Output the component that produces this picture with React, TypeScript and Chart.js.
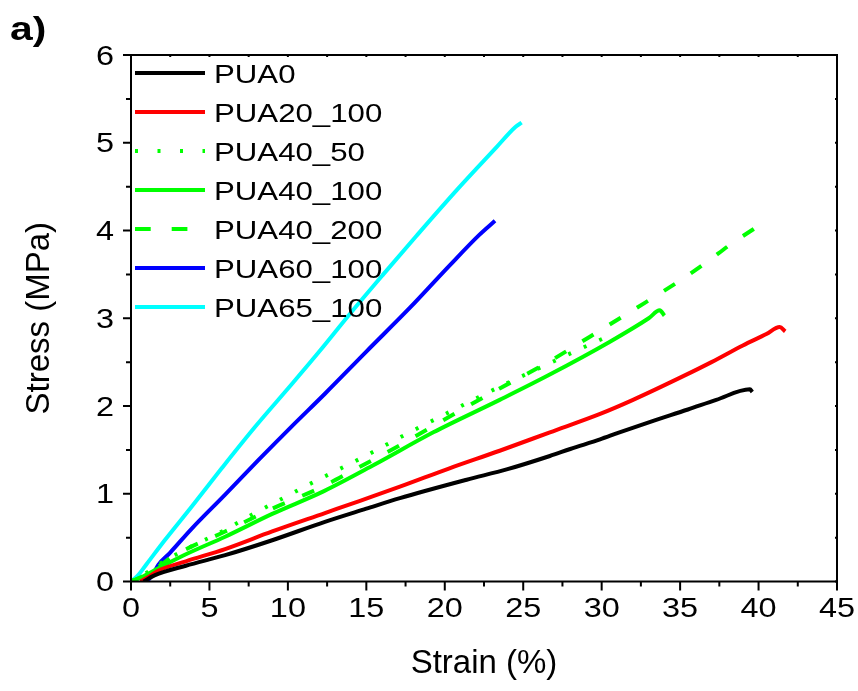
import React, { useEffect, useRef } from 'react';
import { Chart, registerables } from 'chart.js';

Chart.register(...registerables);

const xTickValues = [0, 5, 10, 15, 20, 25, 30, 35, 40, 45];
const yTickValues = [0, 1, 2, 3, 4, 5, 6];
const xTitle = 'Strain (%)';
const yTitle = 'Stress (MPa)';
const panelLabel = 'a)';

const seriesNames = ['PUA0', 'PUA20_100', 'PUA40_50', 'PUA40_100', 'PUA40_200', 'PUA60_100', 'PUA65_100'];
const seriesColors = ['#000000', '#ff0000', '#00ff00', '#00ff00', '#00ff00', '#0000ff', '#00ffff'];
const seriesStyles = ['solid', 'solid', 'dotted', 'solid', 'dashed', 'solid', 'solid'];

const pua0Strain = [0.8, 1.5, 3.5, 6, 9, 12.36, 15, 17.14, 21.4, 24, 26.7, 28, 29.9, 31, 33.1, 35.5, 37.3, 39.45, 39.6];
const pua0Stress = [0, 0.07, 0.18, 0.3, 0.47, 0.68, 0.83, 0.95, 1.16, 1.28, 1.43, 1.51, 1.62, 1.69, 1.82, 1.96, 2.07, 2.19, 2.16];

const pua20Strain = [0.6, 1.2, 1.7, 3.5, 6, 9, 12.36, 14.6, 17.14, 20.3, 23.5, 26.7, 29.9, 32, 35.2, 37, 39, 40.5, 41.35, 41.7];
const pua20Stress = [0, 0.06, 0.12, 0.23, 0.37, 0.57, 0.78, 0.92, 1.08, 1.29, 1.49, 1.7, 1.91, 2.07, 2.34, 2.5, 2.69, 2.82, 2.9, 2.85];

const pua40_50Strain = [0, 1, 2, 3.86, 5.8, 7.7, 9.8, 11.6, 14.5, 17.55, 20.5, 23.5, 26, 28.5, 30.6];
const pua40_50Stress = [0, 0.1, 0.22, 0.4, 0.57, 0.76, 0.96, 1.13, 1.39, 1.68, 1.95, 2.22, 2.43, 2.64, 2.81];

const pua40_100Strain = [0, 0.8, 1.74, 3.5, 6, 9, 12.3, 15.5, 19.27, 23.5, 26.6, 30.5, 33, 33.7, 34];
const pua40_100Stress = [0, 0.06, 0.15, 0.31, 0.51, 0.77, 1.03, 1.33, 1.7, 2.07, 2.35, 2.73, 3, 3.09, 3.03];

const pua40_200Strain = [0, 1, 2.8, 6, 9, 12.2, 14, 17.1, 20.7, 23.5, 26.5, 29.25, 32.7, 35, 36.7, 38.2, 40.4];
const pua40_200Stress = [0, 0.08, 0.3, 0.57, 0.83, 1.08, 1.25, 1.55, 1.92, 2.2, 2.49, 2.79, 3.17, 3.43, 3.64, 3.84, 4.1];

const pua60Strain = [1.0, 1.4, 1.74, 2.5, 3.86, 6, 8.1, 10.2, 12.36, 15, 17.78, 20.3, 22.2, 23.2];
const pua60Stress = [0, 0.08, 0.19, 0.33, 0.6, 0.99, 1.38, 1.76, 2.14, 2.62, 3.12, 3.6, 3.95, 4.11];

const pua65Strain = [0, 0.4, 1, 2.15, 3.85, 5.78, 7.9, 10.35, 12, 14, 16.08, 18.2, 20.76, 23.3, 24.5, 24.9];
const pua65Stress = [0, 0.06, 0.2, 0.47, 0.85, 1.29, 1.76, 2.27, 2.62, 3.06, 3.5, 3.94, 4.46, 4.95, 5.18, 5.23];

const seriesStrain = [pua0Strain, pua20Strain, pua40_50Strain, pua40_100Strain, pua40_200Strain, pua60Strain, pua65Strain];
const seriesStress = [pua0Stress, pua20Stress, pua40_50Stress, pua40_100Stress, pua40_200Stress, pua60Stress, pua65Stress];

const FONT = '"Liberation Sans", Arial, sans-serif';
const SX = 1.2;

function drawText(ctx: CanvasRenderingContext2D, text: string, x: number, y: number, font: string, align: CanvasTextAlign, sx: number) {
  ctx.save();
  ctx.translate(x, y);
  ctx.scale(sx, 1);
  ctx.font = font;
  ctx.textAlign = align;
  ctx.textBaseline = 'alphabetic';
  ctx.fillStyle = '#000';
  ctx.fillText(text, 0, 0);
  ctx.restore();
}

function dashFor(style: string, legend: boolean): number[] {
  if (style === 'dotted') return legend ? [3, 19.5] : [3, 14];
  if (style === 'dashed') return legend ? [15.7, 21] : [13, 19];
  return [];
}

const decorPlugin = {
  id: 'decor',
  afterDraw(chart: any) {
    const ctx: CanvasRenderingContext2D = chart.ctx;
    const { left, right, top, bottom } = chart.chartArea;
    const xs = chart.scales.x;
    const ys = chart.scales.y;
    ctx.save();
    ctx.strokeStyle = '#000';
    ctx.lineWidth = 2;
    ctx.strokeRect(left, top, right - left, bottom - top);
    for (let v = 0; v <= 45.001; v += 2.5) {
      const px = xs.getPixelForValue(v);
      const major = Math.abs(v / 5 - Math.round(v / 5)) < 1e-6;
      ctx.beginPath();
      ctx.moveTo(px, bottom);
      ctx.lineTo(px, bottom + (major ? 9 : 5));
      ctx.moveTo(px, top);
      ctx.lineTo(px, top + 2);
      ctx.stroke();
    }
    for (let v = 0; v <= 6.001; v += 0.5) {
      const py = ys.getPixelForValue(v);
      const major = Math.abs(v - Math.round(v)) < 1e-6;
      ctx.beginPath();
      ctx.moveTo(left, py);
      ctx.lineTo(left - (major ? 8 : 5), py);
      ctx.moveTo(right, py);
      ctx.lineTo(right - 2, py);
      ctx.stroke();
    }
    const tickFont = `27px ${FONT}`;
    xTickValues.forEach((v) => {
      drawText(ctx, String(v), xs.getPixelForValue(v), 617, tickFont, 'center', SX);
    });
    yTickValues.forEach((v) => {
      drawText(ctx, String(v), 114, ys.getPixelForValue(v) + 9.6, tickFont, 'right', SX);
    });
    drawText(ctx, xTitle, (left + right) / 2, 673, `33px ${FONT}`, 'center', 1);
    ctx.save();
    ctx.translate(49, (top + bottom) / 2);
    ctx.rotate(-Math.PI / 2);
    ctx.font = `33px ${FONT}`;
    ctx.textAlign = 'center';
    ctx.textBaseline = 'alphabetic';
    ctx.fillStyle = '#000';
    ctx.fillText(yTitle, 0, 0);
    ctx.restore();
    drawText(ctx, panelLabel, 10, 39.5, `bold 34px ${FONT}`, 'left', SX);
    seriesNames.forEach((name, i) => {
      const ly = 73 + 39 * i;
      ctx.save();
      ctx.strokeStyle = seriesColors[i];
      ctx.lineWidth = 4;
      ctx.lineCap = 'butt';
      ctx.setLineDash(dashFor(seriesStyles[i], true));
      ctx.beginPath();
      ctx.moveTo(135, ly);
      ctx.lineTo(205, ly);
      ctx.stroke();
      ctx.restore();
      drawText(ctx, name, 214, ly + 10, `26px ${FONT}`, 'left', SX);
    });
    ctx.restore();
  },
};

export default function App() {
  const canvasRef = useRef<HTMLCanvasElement | null>(null);

  useEffect(() => {
    document.body.style.margin = '0';
    const canvas = canvasRef.current;
    if (!canvas) return;
    const datasets = seriesNames.map((name, i) => ({
      label: name,
      data: seriesStrain[i].map((x, j) => ({ x, y: seriesStress[i][j] })),
      borderColor: seriesColors[i],
      backgroundColor: seriesColors[i],
      borderWidth: 4,
      borderDash: dashFor(seriesStyles[i], false),
      pointRadius: 0,
      cubicInterpolationMode: 'monotone' as const,
      fill: false,
    }));
    const chart = new Chart(canvas, {
      type: 'line',
      data: { datasets },
      options: {
        animation: false,
        responsive: true,
        maintainAspectRatio: false,
        layout: { padding: { left: 131, right: 21, top: 55, bottom: 109.5 } },
        plugins: { legend: { display: false }, tooltip: { enabled: false } },
        scales: {
          x: { type: 'linear', display: false, min: 0, max: 45 },
          y: { type: 'linear', display: false, min: 0, max: 6 },
        },
      },
      plugins: [decorPlugin],
    });
    return () => chart.destroy();
  }, []);

  return (
    <div style={{ width: 858, height: 691, position: 'relative', background: '#fff' }}>
      <canvas ref={canvasRef} />
    </div>
  );
}
